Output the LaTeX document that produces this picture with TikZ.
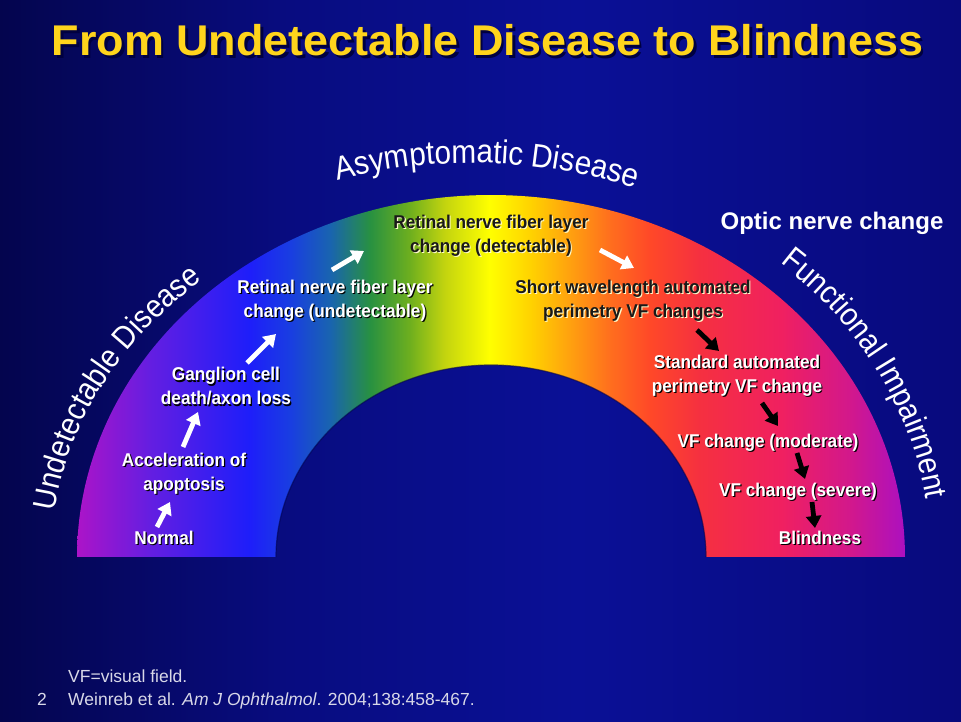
\documentclass[tikz,border=0pt]{standalone}
\usepackage{fontspec}
\setmainfont{Liberation Sans}
\newfontfamily\curvefont[FakeStretch=0.9]{Liberation Sans}
\newfontfamily\lblfont[FakeStretch=0.93]{Liberation Sans}
\usetikzlibrary{decorations.text,arrows.meta}

\definecolor{bgA}{RGB}{4,5,78}
\definecolor{bgB}{RGB}{8,12,128}
\definecolor{bgC}{RGB}{10,16,150}
\definecolor{bgD}{RGB}{8,10,125}
\definecolor{titlegold}{RGB}{255,212,28}
\definecolor{footgray}{RGB}{216,216,232}
\definecolor{rc0}{RGB}{172,20,200}
\definecolor{rc1}{RGB}{100,30,225}
\definecolor{rc2}{RGB}{30,30,250}
\definecolor{rc3}{RGB}{25,62,225}
\definecolor{rc4}{RGB}{25,100,175}
\definecolor{rc5}{RGB}{40,145,65}
\definecolor{rc6}{RGB}{110,175,30}
\definecolor{rc7}{RGB}{195,212,15}
\definecolor{rc8}{RGB}{255,255,0}
\definecolor{rc9}{RGB}{255,210,0}
\definecolor{rc10}{RGB}{255,160,15}
\definecolor{rc11}{RGB}{255,110,30}
\definecolor{rc12}{RGB}{255,72,40}
\definecolor{rc13}{RGB}{245,48,64}
\definecolor{rc14}{RGB}{240,32,96}
\definecolor{rc15}{RGB}{210,24,140}
\definecolor{rc16}{RGB}{172,16,192}

\pgfdeclarehorizontalshading{rainbowband}{100bp}{color(0bp)=(rc0); color(25bp)=(rc0); color(29.4bp)=(rc1); color(35.4bp)=(rc2); color(37.9bp)=(rc3); color(40.3bp)=(rc4); color(42.7bp)=(rc5); color(45.1bp)=(rc6); color(47.2bp)=(rc7); color(49.9bp)=(rc8); color(52.4bp)=(rc9); color(54.8bp)=(rc10); color(57.2bp)=(rc11); color(59.6bp)=(rc12); color(62.6bp)=(rc13); color(67.5bp)=(rc14); color(71.7bp)=(rc15); color(75bp)=(rc16); color(100bp)=(rc16)}

\pgfdeclarehorizontalshading{slidebg}{100bp}{color(0bp)=(bgA); color(25bp)=(bgA); color(40bp)=(bgB); color(55bp)=(bgC); color(75bp)=(bgD); color(100bp)=(bgD)}

\newcommand\wtx[1]{\leavevmode\rlap{\kern1.2pt\raisebox{-1.2pt}{\color{black}#1}}{\color{white}#1}}
\newcommand\dtx[1]{\leavevmode\rlap{\kern1.1pt\raisebox{-1.1pt}{\color{white!80!yellow}#1}}{\color{black!90}#1}}
\newcommand\ttx[1]{\leavevmode\rlap{\kern2.5pt\raisebox{-2.5pt}{\color{black!75!blue}#1}}{\color{titlegold}#1}}

\begin{document}
\begin{tikzpicture}[x=1pt,y=1pt,
  lbl/.style={align=center, inner sep=0pt, font=\lblfont\fontsize{18.5}{24}\selectfont\bfseries},
  warrow/.style={draw=white, line width=4.8pt, -{Triangle[length=12pt,width=15pt]}},
  karrow/.style={draw=black, line width=4.8pt, -{Triangle[length=12pt,width=15pt]}},
  foot/.style={anchor=base west, inner sep=0pt, text=footgray, font=\fontsize{17.5}{20}\selectfont}
]
% background
\shade[shading=slidebg] (0,0) rectangle (961,722);
\useasboundingbox (0,0) rectangle (961,722);

% rainbow band
\shade[shading=rainbowband]
  plot[domain=180:0,samples=150] ({491+414*cos(\x)},{165+362*sin(\x)})
  -- plot[domain=0:180,samples=150] ({491+215*cos(\x)},{165+192*sin(\x)}) -- cycle;
\draw[line width=1.2pt, draw=black!70!blue, opacity=0.6]
  plot[domain=0:180,samples=150] ({491+215*cos(\x)},{165+192*sin(\x)});

% title
\node[anchor=base, inner sep=0pt, font=\fontsize{43}{50}\selectfont\bfseries] (title) at (487.5,666)
  {\scalebox{1.045}[1]{\ttx{From Undetectable Disease to Blindness}}};

% curved labels
\path[decorate, decoration={text along path, text align=center,
  text={|\curvefont\fontsize{33}{33}\selectfont\color{white}|Asymptomatic Disease}}]
  plot[domain=130:46,samples=120] ({472+461*cos(\x)},{165+394*sin(\x)});
\path[decorate, decoration={text along path, text align=center,
  text={|\curvefont\fontsize{32}{32}\selectfont\color{white}|Undetectable Disease}}]
  plot[domain=191:115,samples=120] ({491+440*cos(\x)},{165+366*sin(\x)});
\path[decorate, decoration={text along path, text align=center,
  text={|\curvefont\fontsize{32}{32}\selectfont\color{white}|Functional Impairment}}]
  plot[domain=64:-8,samples=120] ({491+440*cos(\x)},{165+390*sin(\x)});

% stage labels
\node[lbl] (normal) at (164,184) {\wtx{Normal}};
\node[lbl] (accel) at (184,248) {\wtx{Acceleration of}\\\wtx{apoptosis}};
\node[lbl] (gang) at (226,335) {\wtx{Ganglion cell}\\\wtx{death/axon loss}};
\node[lbl] (rnflu) at (335,421) {\wtx{Retinal nerve fiber layer}\\\wtx{change (undetectable)}};
\node[lbl] (rnfld) at (491,486) {\dtx{Retinal nerve fiber layer}\\\dtx{change (detectable)}};
\node[lbl] (swap) at (633,421) {\dtx{Short wavelength automated}\\\dtx{perimetry VF changes}};
\node[lbl] (sap) at (737,346) {\wtx{Standard automated}\\\wtx{perimetry VF change}};
\node[lbl] (mod) at (768,279) {\wtx{VF change (moderate)}};
\node[lbl] (sev) at (798,230) {\wtx{VF change (severe)}};
\node[lbl] (blind) at (820,184) {\wtx{Blindness}};
\node[inner sep=0pt, text=white, font=\fontsize{24}{28}\selectfont\bfseries] (optic) at (832,499) {Optic nerve change};

% arrow end points
\coordinate (a1s) at (157,195); \coordinate (a1e) at (170,220);
\coordinate (a2s) at (183,275); \coordinate (a2e) at (198,310);
\coordinate (a3s) at (247,359); \coordinate (a3e) at (276,388);
\coordinate (a4s) at (332,452); \coordinate (a4e) at (364,471);
\coordinate (a5s) at (600,472); \coordinate (a5e) at (634,454);
\coordinate (b1s) at (697,392); \coordinate (b1e) at (719,371);
\coordinate (b2s) at (762,319); \coordinate (b2e) at (778,296);
\coordinate (b3s) at (797,269); \coordinate (b3e) at (805,243);
\coordinate (b4s) at (812,220); \coordinate (b4e) at (815,194);

\draw[warrow] (a1s) -- (a1e);
\draw[warrow] (a2s) -- (a2e);
\draw[warrow] (a3s) -- (a3e);
\draw[warrow] (a4s) -- (a4e);
\draw[warrow] (a5s) -- (a5e);
\draw[karrow] (b1s) -- (b1e);
\draw[karrow] (b2s) -- (b2e);
\draw[karrow] (b3s) -- (b3e);
\draw[karrow] (b4s) -- (b4e);

% footer
\node[foot] (vf) at (68,39) {VF=visual field.};
\node[foot] (num) at (37,16) {2};
\node[foot] (ref) at (68,16) {Weinreb et al. \textit{Am J Ophthalmol}. 2004;138:458-467.};
\end{tikzpicture}
\end{document}
